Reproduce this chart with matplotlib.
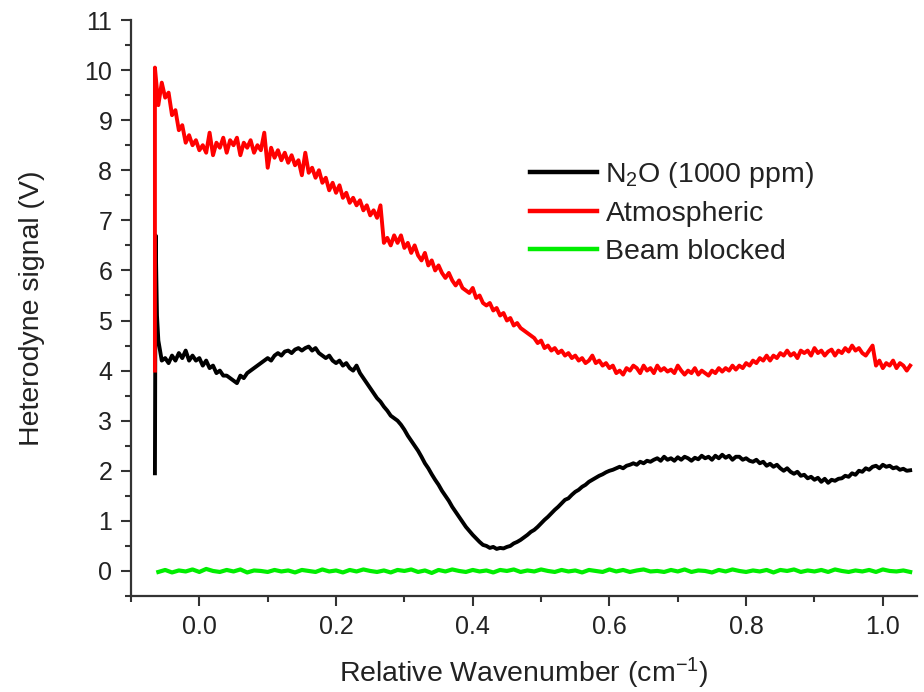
import numpy as np
import matplotlib
matplotlib.use("Agg")
import matplotlib.pyplot as plt
from matplotlib.ticker import MultipleLocator, FormatStrFormatter

plt.rcParams['font.family'] = ['Liberation Sans', 'DejaVu Sans']
plt.rcParams['mathtext.default'] = 'regular'

# ---------------- data ----------------
labels = ["N$_2$O (1000 ppm)", "Atmospheric", "Beam blocked"]
colors = ["#000000", "#ff0000", "#00ee00"]

# grid of relative wavenumber samples (cm^-1)
grid_start = -0.060
grid_step = 0.005

# N2O (1000 ppm): leading points (start transient) then regular grid
n2o_head_x = [-0.065, -0.064, -0.062]
n2o_head_y = [1.95, 6.7, 5.1]
n2o_y = [
    4.6, 4.2, 4.25, 4.15, 4.3, 4.2, 4.35, 4.25, 4.4, 4.2,
    4.3, 4.2, 4.25, 4.1, 4.2, 4.05, 4.1, 3.95, 4.0, 3.9,
    3.9, 3.85, 3.8, 3.75, 3.9, 3.85, 3.95, 4.0, 4.05, 4.1,
    4.15, 4.2, 4.25, 4.2, 4.3, 4.35, 4.3, 4.38, 4.4, 4.35,
    4.42, 4.45, 4.4, 4.45, 4.48, 4.4, 4.45, 4.35, 4.3, 4.25,
    4.3, 4.2, 4.15, 4.2, 4.1, 4.15, 4.05, 4.0, 4.1, 3.95,
    3.85, 3.75, 3.65, 3.55, 3.45, 3.38, 3.28, 3.2, 3.1, 3.05,
    3.0, 2.92, 2.82, 2.7, 2.6, 2.5, 2.4, 2.28, 2.15, 2.05,
    1.93, 1.82, 1.72, 1.6, 1.5, 1.4, 1.28, 1.18, 1.08, 0.98,
    0.88, 0.8, 0.72, 0.65, 0.58, 0.52, 0.5, 0.46, 0.48, 0.44,
    0.46, 0.45, 0.48, 0.5, 0.55, 0.58, 0.62, 0.67, 0.72, 0.78,
    0.82, 0.88, 0.95, 1.02, 1.08, 1.15, 1.22, 1.28, 1.35, 1.42,
    1.45, 1.52, 1.58, 1.62, 1.68, 1.72, 1.78, 1.82, 1.86, 1.9,
    1.93, 1.97, 2.0, 2.02, 2.05, 2.08, 2.05, 2.1, 2.12, 2.15,
    2.12, 2.18, 2.15, 2.2, 2.18, 2.22, 2.25, 2.2, 2.28, 2.22,
    2.25, 2.2, 2.27, 2.22, 2.28, 2.25, 2.2, 2.26, 2.23, 2.3,
    2.25, 2.28, 2.22, 2.3, 2.25, 2.32, 2.26, 2.3, 2.22, 2.28,
    2.28, 2.22, 2.25, 2.2, 2.18, 2.22, 2.15, 2.18, 2.1, 2.14,
    2.08, 2.12, 2.05, 2.0, 2.05, 1.98, 1.94, 1.98, 1.9, 1.92,
    1.85, 1.88, 1.82, 1.86, 1.78, 1.84, 1.76, 1.82, 1.8, 1.84,
    1.85, 1.9, 1.88, 1.95, 1.92, 2.0, 1.98, 2.05, 2.02, 2.08,
    2.1, 2.05, 2.12, 2.08, 2.1, 2.05, 2.07, 2.02, 2.04, 2.0, 2.01,
]

# Atmospheric
atm_head_x = [-0.065, -0.065]
atm_head_y = [4.0, 10.05]
atm_y = [
    9.3, 9.75, 9.45, 9.55, 9.1, 9.2, 8.8, 8.9, 8.55, 8.7,
    8.5, 8.6, 8.4, 8.5, 8.35, 8.75, 8.3, 8.55, 8.45, 8.65,
    8.35, 8.6, 8.5, 8.65, 8.3, 8.55, 8.45, 8.6, 8.35, 8.5,
    8.4, 8.75, 8.05, 8.45, 8.25, 8.4, 8.2, 8.35, 8.15, 8.3,
    8.1, 8.2, 7.9, 8.35, 7.95, 8.05, 7.85, 8.0, 7.75, 7.85,
    7.6, 7.75, 7.55, 7.7, 7.45, 7.55, 7.35, 7.45, 7.3, 7.4,
    7.2, 7.3, 7.1, 7.2, 7.05, 7.3, 6.55, 6.65, 6.5, 6.7,
    6.55, 6.7, 6.45, 6.55, 6.35, 6.5, 6.3, 6.2, 6.35, 6.1,
    6.2, 6.0, 6.1, 5.95, 5.85, 5.95, 5.8, 5.7, 5.8, 5.65,
    5.6, 5.55, 5.65, 5.45, 5.5, 5.35, 5.3, 5.35, 5.2, 5.25,
    5.1, 5.15, 5.0, 5.05, 4.9, 4.95, 4.85, 4.8, 4.75, 4.7,
    4.65, 4.55, 4.6, 4.45, 4.5, 4.4, 4.45, 4.35, 4.4, 4.3,
    4.35, 4.25, 4.3, 4.2, 4.25, 4.15, 4.2, 4.3, 4.15, 4.2,
    4.1, 4.15, 4.05, 4.1, 3.95, 4.0, 3.92, 4.05, 4.0, 4.1,
    4.05, 3.95, 4.1, 4.0, 4.05, 3.95, 4.1, 4.0, 4.05, 3.98,
    4.02, 3.95, 4.1, 4.0, 3.92, 4.0, 3.95, 4.05, 3.92, 4.0,
    3.95, 3.9, 4.0, 3.95, 4.05, 3.98, 4.05, 4.0, 4.1, 4.02,
    4.1, 4.05, 4.15, 4.1, 4.2, 4.15, 4.25, 4.2, 4.3, 4.2,
    4.3, 4.25, 4.35, 4.3, 4.4, 4.3, 4.35, 4.25, 4.4, 4.35,
    4.4, 4.3, 4.45, 4.35, 4.4, 4.3, 4.38, 4.42, 4.3, 4.4,
    4.35, 4.45, 4.38, 4.5, 4.4, 4.45, 4.35, 4.3, 4.4, 4.5,
    4.1, 4.2, 4.05, 4.15, 4.1, 4.2, 4.05, 4.15, 4.1, 4.0, 4.1,
]

# Beam blocked (sampled every 0.01 from -0.06)
blocked_step = 0.01
blocked_y = [
    -0.02, 0.02, -0.03, 0.01, -0.01, 0.03, -0.02, 0.04, 0.0, -0.02,
    0.02, -0.01, 0.03, -0.03, 0.01, 0.0, -0.02, 0.02, -0.01, 0.01,
    -0.03, 0.02, 0.0, -0.02, 0.03, -0.01, 0.01, -0.03, 0.02, -0.01,
    0.03, 0.0, -0.02, 0.01, -0.03, 0.02, 0.0, 0.03, -0.02, 0.01,
    -0.04, 0.02, -0.01, 0.03, 0.0, -0.02, 0.02, -0.01, 0.01, -0.03,
    0.02, 0.0, 0.03, -0.02, 0.01, -0.01, 0.03, 0.0, -0.02, 0.02,
    -0.01, 0.01, -0.03, 0.02, 0.0, -0.02, 0.03, -0.01, 0.02, -0.02,
    0.01, 0.03, -0.01, 0.0, -0.02, 0.02, -0.01, 0.03, -0.02, 0.01,
    0.0, -0.03, 0.02, -0.01, 0.03, 0.0, -0.02, 0.01, -0.01, 0.02,
    -0.03, 0.02, 0.0, 0.03, -0.02, 0.01, -0.01, 0.02, -0.02, 0.03,
    0.0, -0.02, 0.01, -0.01, 0.02, -0.02, 0.03, 0.0, -0.01, 0.01, -0.02,
]

x_ticks = [0.0, 0.2, 0.4, 0.6, 0.8, 1.0]
y_ticks = list(range(0, 12))

# ---------------- build series ----------------
n2o_x = np.concatenate([n2o_head_x, grid_start + grid_step * np.arange(len(n2o_y))])
n2o = np.concatenate([n2o_head_y, n2o_y])
atm_x = np.concatenate([atm_head_x, grid_start + grid_step * np.arange(len(atm_y))])
atm = np.concatenate([atm_head_y, atm_y])
blk_x = grid_start + blocked_step * np.arange(len(blocked_y))
blk = np.array(blocked_y)

# ---------------- figure ----------------
fig = plt.figure(figsize=(9.24, 6.92), dpi=100)
ax = fig.add_axes([131 / 924, 1 - 596 / 692, (917 - 131) / 924, (596 - 20) / 692])

lw = 2.8
ax.plot(n2o_x, n2o, color=colors[0], lw=lw, label=labels[0])
ax.plot(atm_x, atm, color=colors[1], lw=lw, label=labels[1])
ax.plot(blk_x, blk, color=colors[2], lw=3.0, label=labels[2])

ax.set_xlim(-0.1, 1.05)
ax.set_ylim(-0.5, 11)

for s in ["top", "right"]:
    ax.spines[s].set_visible(False)
for s in ["left", "bottom"]:
    ax.spines[s].set_color("#333333")
    ax.spines[s].set_linewidth(1.6)

ax.set_xticks(x_ticks)
ax.set_yticks(y_ticks)
ax.xaxis.set_major_formatter(FormatStrFormatter('%.1f'))
ax.xaxis.set_minor_locator(MultipleLocator(0.1))
ax.yaxis.set_minor_locator(MultipleLocator(0.5))
ax.tick_params(which='major', direction='out', length=7.5, width=1.5,
               color="#333333", labelsize=18, labelcolor="#222222", pad=6)
ax.tick_params(which='minor', direction='out', length=4, width=1.5, color="#333333")

ax.set_xlabel("Relative Wavenumber (cm$^{-1}$)", fontsize=20.5, color="#222222", labelpad=12)
ax.set_ylabel("Heterodyne signal (V)", fontsize=20.5, color="#222222", labelpad=28)

leg = ax.legend(loc='upper left', bbox_to_anchor=(530 / 924, 1 - 160 / 692),
                bbox_transform=fig.transFigure, frameon=False, fontsize=20.5,
                handlelength=2.35, handletextpad=0.3, labelspacing=0.4,
                borderpad=0, borderaxespad=0)
for t in leg.get_texts():
    t.set_color("#222222")
for h in leg.get_lines():
    h.set_linewidth(3.2)

fig.savefig("out.png", dpi=100)
